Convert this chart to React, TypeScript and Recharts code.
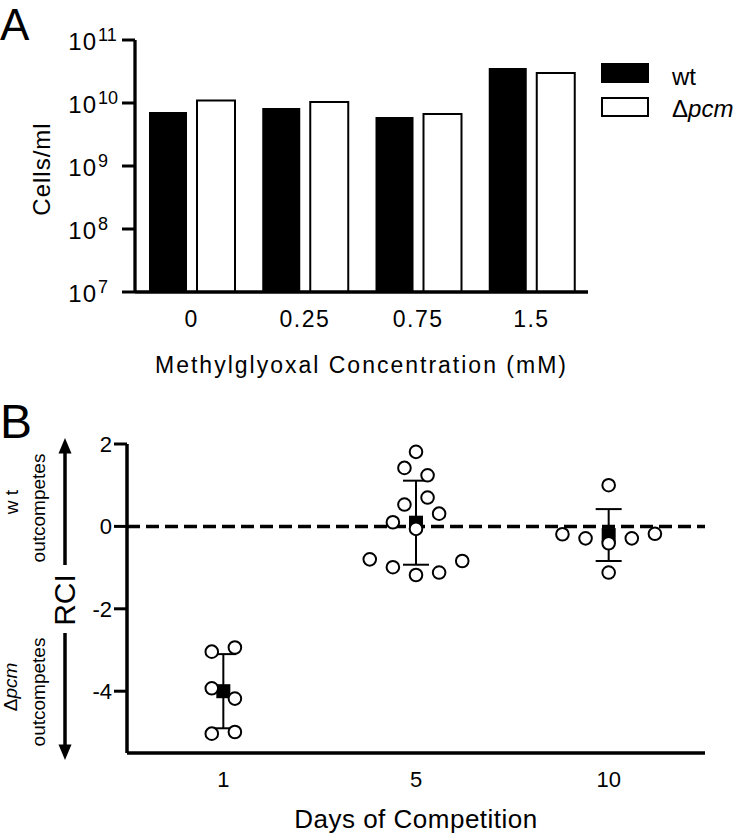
import React from "react";
import {
  BarChart,
  Bar,
  XAxis,
  YAxis,
  Legend,
  ComposedChart,
  Scatter,
  ErrorBar,
  ReferenceLine,
} from "recharts";

const FONT = '"Liberation Sans", Arial, Helvetica, sans-serif';

// Panel A: cells/ml after growth in methylglyoxal
const concentrations = ["0", "0.25", "0.75", "1.5"];
const wtCells = [7.2e9, 8.3e9, 6.0e9, 3.6e10];
const pcmCells = [1.1e10, 1.04e10, 6.7e9, 3.0e10];
const cellTicks = [1e7, 1e8, 1e9, 1e10, 1e11];

// Panel B: relative competitive index per day
const days = ["1", "5", "10"];
const day1Rci = [-3.04, -2.94, -3.93, -4.18, -5.03, -4.99];
const day1Cols = [-1, 1, -1, 1, -1, 1];
const day5Rci = [1.81, 1.42, 1.24, 0.7, 0.53, 0.31, 0.1, -0.06, -0.8, -0.84, -0.99, -1.12, -1.18];
const day5Cols = [0, -1, 1, 1, -1, 2, -2, 0, -4, 4, -2, 2, 0];
const day10Rci = [1.0, -0.19, -0.18, -0.29, -0.29, -0.41, -1.12];
const day10Cols = [0, -4, 4, -2, 2, 0, 0];
const rciMean = [-4.0, 0.09, -0.21];
const rciSd = [0.9, 1.02, 0.63];
const rciTicks = [-4, -2, 0, 2];

// horizontal jitter step, in category units
const JITTER = 0.06;

const cellData = concentrations.map((c, i) => ({
  conc: c,
  wt: wtCells[i],
  pcm: pcmCells[i],
}));

const rciPoints = [day1Rci, day5Rci, day10Rci].flatMap((vals, d) => {
  const cols = [day1Cols, day5Cols, day10Cols][d];
  return vals.map((v, i) => ({ x: d + cols[i] * JITTER, y: v }));
});

const rciMeans = rciMean.map((m, d) => ({ x: d, y: m, sd: rciSd[d] }));

const axisStyle = { stroke: "#000", strokeWidth: 3.3 };
const tickStyle = { stroke: "#000", strokeWidth: 3 };

function LogTick(props: any) {
  const { x, y, payload } = props;
  const exp = Math.round(Math.log10(payload.value));
  return (
    <g fontFamily={FONT} fill="#000">
      <text x={x} y={y + 10} textAnchor="end" fontSize={24} letterSpacing={1}>
        10
      </text>
      <text x={x + 1} y={y + 1} textAnchor="start" fontSize={18}>
        {exp}
      </text>
    </g>
  );
}

function ConcTick(props: any) {
  const { x, y, payload } = props;
  return (
    <text
      x={x}
      y={y}
      dy="0.71em"
      textAnchor="middle"
      fontSize={23}
      letterSpacing={1.5}
      fontFamily={FONT}
      fill="#000"
    >
      {payload.value}
    </text>
  );
}

function CellLegend(props: any) {
  const { payload } = props;
  return (
    <svg width={139} height={64} style={{ display: "block" }}>
      {(payload || []).map((entry: any, i: number) => {
        const name = String(entry.value);
        return (
          <g key={name}>
            <rect
              x={2}
              y={2 + i * 34}
              width={46}
              height={18}
              fill={entry.color}
              stroke="#000"
              strokeWidth={2}
            />
            <text x={72} y={23 + i * 32} fontSize={24} fontFamily={FONT} fill="#000">
              {name.startsWith("Δ") ? (
                <>
                  <tspan>Δ</tspan>
                  <tspan fontStyle="italic">{name.slice(1)}</tspan>
                </>
              ) : (
                name
              )}
            </text>
          </g>
        );
      })}
    </svg>
  );
}

function Square(props: any) {
  const { cx, cy } = props;
  return <rect x={cx - 7} y={cy - 7} width={14} height={14} fill="#000" />;
}

function OpenCircle(props: any) {
  const { cx, cy } = props;
  return <circle cx={cx} cy={cy} r={6.3} fill="#fff" stroke="#000" strokeWidth={2} />;
}

function RciLabel(props: any) {
  const vb = props.viewBox;
  const cy = vb.y + vb.height / 2;
  const ax = 65;
  return (
    <g fontFamily={FONT} fill="#000">
      <text x={0} y={vb.y - 6} fontSize={48}>
        B
      </text>
      <line x1={ax} y1={cy - 146} x2={ax} y2={cy - 33.5} stroke="#000" strokeWidth={3.5} />
      <polygon points={`${ax - 6.5},${cy - 145} ${ax + 6.5},${cy - 145} ${ax},${cy - 160.5}`} />
      <line x1={ax} y1={cy + 34.5} x2={ax} y2={cy + 147} stroke="#000" strokeWidth={3.5} />
      <polygon points={`${ax - 6.5},${cy + 146} ${ax + 6.5},${cy + 146} ${ax},${cy + 161.5}`} />
      <text x={75} y={cy + 1.5} fontSize={30} textAnchor="middle" transform={`rotate(-90 75 ${cy + 1.5})`}>
        RCI
      </text>
      <text x={18} y={cy - 96.5} fontSize={19} textAnchor="middle" transform={`rotate(-90 18 ${cy - 96.5})`}>
        w t
      </text>
      <text x={45} y={cy - 90.5} fontSize={19} textAnchor="middle" transform={`rotate(-90 45 ${cy - 90.5})`}>
        outcompetes
      </text>
      <text x={17} y={cy + 88.5} fontSize={19} textAnchor="middle" transform={`rotate(-90 17 ${cy + 88.5})`}>
        <tspan>Δ</tspan>
        <tspan fontStyle="italic">pcm</tspan>
      </text>
      <text x={45} y={cy + 93.5} fontSize={19} textAnchor="middle" transform={`rotate(-90 45 ${cy + 93.5})`}>
        outcompetes
      </text>
    </g>
  );
}

export default function App() {
  return (
    <div style={{ position: "absolute", left: 0, top: 0, width: 741, height: 837, fontFamily: FONT, background: "#fff" }}>
      {/* Panel A */}
      <div style={{ position: "absolute", left: 0, top: 0 }}>
        <BarChart
          width={741}
          height={380}
          data={cellData}
          margin={{ top: 40, right: 153, bottom: 0, left: 0 }}
          barSize={38}
          barGap={10}
        >
          <XAxis
            dataKey="conc"
            height={88}
            tickLine={false}
            tickSize={0}
            tickMargin={19}
            axisLine={axisStyle}
            tick={<ConcTick />}
            label={(p: any) => (
              <text
                x={p.viewBox.x + p.viewBox.width / 2}
                y={p.viewBox.y + 81}
                textAnchor="middle"
                fontSize={23}
                letterSpacing={2}
                fontFamily={FONT}
                fill="#000"
              >
                Methylglyoxal Concentration (mM)
              </text>
            )}
          />
          <YAxis
            type="number"
            scale="log"
            domain={[1e7, 1e11]}
            ticks={cellTicks}
            allowDataOverflow
            width={135}
            tickSize={13}
            tickMargin={25}
            axisLine={axisStyle}
            tickLine={tickStyle}
            tick={<LogTick />}
            label={() => (
              <g fontFamily={FONT} fill="#000">
                <text x={0} y={40} fontSize={44}>
                  A
                </text>
                <text
                  x={50}
                  y={169}
                  fontSize={24}
                  letterSpacing={1}
                  textAnchor="middle"
                  transform="rotate(-90 50 169)"
                >
                  Cells/ml
                </text>
              </g>
            )}
          />
          <Legend
            layout="horizontal"
            verticalAlign="middle"
            align="center"
            wrapperStyle={{ left: 600, top: 62, width: 141 }}
            content={<CellLegend />}
          />
          <Bar dataKey="wt" name="wt" fill="#000" isAnimationActive={false} />
          <Bar dataKey="pcm" name="Δpcm" fill="#fff" stroke="#000" strokeWidth={2} isAnimationActive={false} />
        </BarChart>
      </div>

      {/* Panel B */}
      <div style={{ position: "absolute", left: 0, top: 380 }}>
        <ComposedChart width={741} height={457} margin={{ top: 64, right: 36, bottom: 0, left: 0 }}>
          <XAxis
            type="number"
            dataKey="x"
            domain={[-0.5, 2.5]}
            ticks={[0, 1, 2]}
            allowDataOverflow
            height={84}
            tickLine={false}
            tickSize={0}
            tickMargin={18}
            axisLine={{ stroke: "#000", strokeWidth: 3.5 }}
            tick={{ fontSize: 22, fill: "#000", fontFamily: FONT }}
            tickFormatter={(i: number) => days[i]}
            label={(p: any) => (
              <text
                x={p.viewBox.x + p.viewBox.width / 2}
                y={p.viewBox.y + 75}
                textAnchor="middle"
                fontSize={26}
                letterSpacing={0.5}
                fontFamily={FONT}
                fill="#000"
              >
                Days of Competition
              </text>
            )}
          />
          <YAxis
            type="number"
            dataKey="y"
            domain={[-5.5, 2]}
            ticks={rciTicks}
            allowDataOverflow
            width={127}
            tickSize={13}
            tickMargin={2}
            axisLine={{ stroke: "#000", strokeWidth: 3.5 }}
            tickLine={tickStyle}
            tick={{ fontSize: 22, fill: "#000", fontFamily: FONT }}
            label={(p: any) => <RciLabel {...p} />}
          />
          <ReferenceLine y={0} stroke="#000" strokeWidth={3.5} strokeDasharray="13 6" />
          <Scatter data={rciMeans} shape={<Square />} isAnimationActive={false}>
            <ErrorBar dataKey="sd" direction="y" width={13} stroke="#000" strokeWidth={2} isAnimationActive={false} />
          </Scatter>
          <Scatter data={rciPoints} shape={<OpenCircle />} isAnimationActive={false} />
        </ComposedChart>
      </div>
    </div>
  );
}
